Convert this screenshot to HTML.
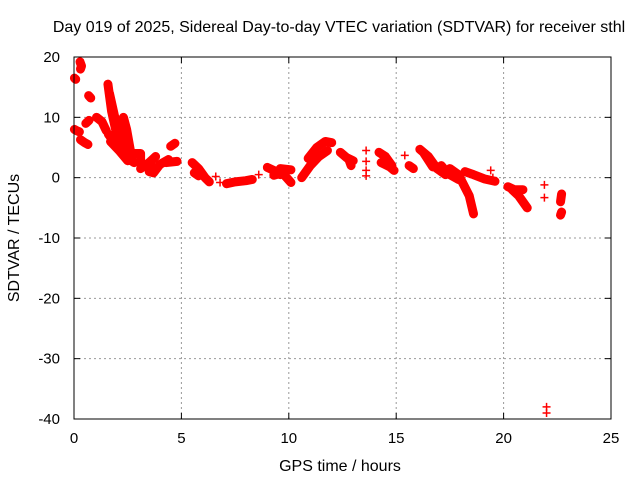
<!DOCTYPE html>
<html><head><meta charset="utf-8"><style>
body{margin:0;background:#fff}
svg{display:block;font-family:"Liberation Sans",sans-serif}
</style></head><body>
<svg id="c" width="640" height="480">
<text x="339" y="32" font-size="16" text-anchor="middle">Day 019 of 2025, Sidereal Day-to-day VTEC variation (SDTVAR) for receiver sthl</text>
<text x="340" y="471" font-size="16" text-anchor="middle">GPS time / hours</text>
<text x="19" y="238" font-size="16" text-anchor="middle" transform="rotate(-90 19 238)">SDTVAR / TECUs</text>
<g id="grid"></g><g id="ticks"></g><g id="marks"></g>
<rect x="74" y="57" width="537" height="362" fill="none" stroke="#000" stroke-width="1"/>
</svg>
<script>
const xTicks=[0,5,10,15,20,25];
const yTicks=[20,10,0,-10,-20,-30,-40];
const tracks=[
[[0.02,16.5],[0.08,16.3]],
[[0.28,19.2],[0.35,18.5],[0.3,18]],
[[0.68,13.6],[0.78,13.2]],
[[0.02,8],[0.12,7.8],[0.25,7.6]],
[[0.3,6.3],[0.5,5.8],[0.65,5.5]],
[[0.55,9],[0.7,9.5]],
[[1.05,10],[1.3,9.3],[1.5,7.8]],
[[1.58,15.5],[1.75,11],[2,7],[2.3,4.5],[2.6,3]],
[[1.65,14],[1.9,10],[2.2,7],[2.5,4]],
[[2.3,10],[2.45,8],[2.6,5],[2.7,3]],
[[1.6,7.2],[1.9,5.8],[2.2,4.3],[2.5,3.2],[2.8,2.5]],
[[1.7,6],[2.1,4.5],[2.5,2.8]],
[[2.8,4],[3.1,4],[3.1,2.4]],
[[3.1,1.5],[3.5,2.5],[3.8,3.5]],
[[3.5,1],[3.7,0.8],[4.0,2.2],[4.4,3]],
[[3.5,2.5],[3.7,1.5]],
[[4.5,5.2],[4.7,5.7]],
[[4.3,2.5],[4.8,2.7]],
[[5.5,2.5],[5.8,1.5],[6.1,0],[6.3,-0.7]],
[[5.6,0.8],[5.8,0.3]],
[[6.6,0.2]],[[6.8,-0.8]],
[[7.1,-1],[7.5,-0.7],[8,-0.5],[8.3,-0.3]],
[[8.6,0.5]],
[[9.0,1.7],[9.3,1.2],[9.6,0.5]],
[[9.3,0.4],[9.7,0.8],[10.1,-0.8]],
[[9.6,1.5],[10.1,1.3]],
[[10.6,0],[11,2],[11.4,3.5],[11.8,4.5]],
[[10.9,3.2],[11.3,5],[11.7,6],[12,5.8]],
[[12.4,4.2],[12.7,3.3],[13,2.8]],
[[12.8,3],[12.9,2]],
[[13.6,4.5]],[[13.6,2.7]],[[13.6,1.2]],[[13.6,0.3]],
[[14.2,4.2],[14.5,3.5],[14.8,2]],
[[14.3,2.5],[14.7,1.8],[14.9,1.2]],
[[15.4,3.7]],[[15.6,2],[15.8,1.5]],
[[16.1,4.7],[16.5,3.5],[16.9,1.5],[17.3,0.5]],
[[16.3,4],[16.7,1.8]],
[[17.1,2],[17.4,0.7],[17.9,-0.3]],
[[17.5,1.5],[17.9,0.5],[18.4,-3],[18.6,-6]],
[[18.2,1],[18.6,0.5],[19.1,-0.2],[19.6,-0.6]],
[[19.4,1.2]],[[19.5,0]],
[[20.2,-1.5],[20.5,-2],[20.9,-2]],
[[20.4,-2],[20.7,-3],[21.1,-5]],
[[21.9,-1.2]],[[21.9,-3.3]],
[[22.7,-2.7],[22.65,-4]],[[22.7,-5.7],[22.65,-6.2]],
[[22.0,-38]],[[22.0,-39]]
];
const X0=74,X1=611,Y0=419,Y1=57;
const sx=h=>X0+(h-0)/(25-0)*(X1-X0);
const sy=v=>Y0-(v-(-40))/(20-(-40))*(Y0-Y1);
const NS="http://www.w3.org/2000/svg";
const g=document.getElementById('grid'),t=document.getElementById('ticks'),m=document.getElementById('marks');
function mk(tag,at,p){const e=document.createElementNS(NS,tag);for(const k in at)e.setAttribute(k,at[k]);p.appendChild(e);return e;}
xTicks.forEach(v=>{const x=sx(v);
 if(v>0&&v<25){const l=mk('line',{x1:x,x2:x,y1:Y1,y2:Y0,stroke:'#999','stroke-dasharray':'2,3'},g);
 
 }
 mk('line',{x1:x,x2:x,y1:Y0,y2:Y0-6,stroke:'#000'},t);mk('line',{x1:x,x2:x,y1:Y1,y2:Y1+6,stroke:'#000'},t);
 const tx=mk('text',{x:x,y:Y0+24,'font-size':15,'text-anchor':'middle'},t);tx.textContent=v;
 
 });
yTicks.forEach(v=>{const y=sy(v);
 if(v<20&&v>-40){const l=mk('line',{x1:X0,x2:X1,y1:y,y2:y,stroke:'#999','stroke-dasharray':'2,3'},g);
 
 }
 mk('line',{x1:X0,x2:X0+6,y1:y,y2:y,stroke:'#000'},t);mk('line',{x1:X1,x2:X1-6,y1:y,y2:y,stroke:'#000'},t);
 const tx=mk('text',{x:X0-14,y:y+5,'font-size':15,'text-anchor':'end'},t);tx.textContent=v;
 
 });
tracks.forEach(tr=>{
 const pts=tr.map(p=>sx(p[0])+','+sy(p[1])).join(' ');
 if(tr.length>1){const pl=mk('polyline',{points:pts,fill:'none',stroke:'#f00','stroke-width':9,'stroke-linejoin':'round','stroke-linecap':'round'},m);
 
 }
 tr.forEach(p=>{const x=sx(p[0]),y=sy(p[1]);
  const pm=mk('path',{d:`M${x-4},${y}H${x+4}M${x},${y-4}V${y+4}`,stroke:'#f00','stroke-width':1.5},m);
  
  });
});
</script>
</body></html>
